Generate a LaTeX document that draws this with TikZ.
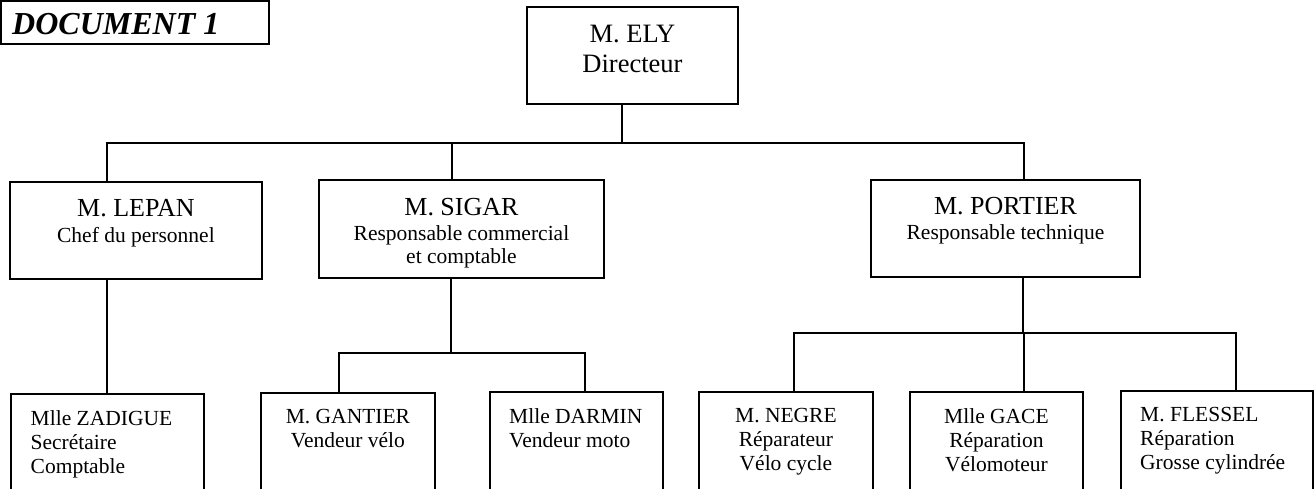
\documentclass[tikz,border=0pt]{standalone}
\usepackage{fontspec}
\setmainfont{Liberation Serif}
\usetikzlibrary{positioning}

\begin{document}
\begin{tikzpicture}[x=1pt,y=1pt,box/.style={draw,line width=1.9pt,inner sep=0pt,anchor=north west},line/.style={line width=1.8pt},txt/.style={inner sep=0pt,align=center,font=\fontsize{21.5}{23}\selectfont},low/.style={inner sep=0pt,font=\fontsize{21.5}{24}\selectfont}]
	\useasboundingbox (0,0) rectangle (1315,-489);
	\node[box,minimum width=268pt,minimum height=43pt] (doc) at (0,0) {};
	\node[inner sep=0pt,font=\fontsize{32}{36}\bfseries\itshape,below right=13pt and 12pt of doc.north west] (doctext) {DOCUMENT 1};
	\node[box,minimum width=211pt,minimum height=97pt] (ely) at (526,-6) {};
	\node[txt,font=\fontsize{26.5}{30}\selectfont,below=19pt of ely.north] (elytext) {M. ELY\\Directeur};
	\node[box,minimum width=252pt,minimum height=97pt] (lepan) at (9,-181) {};
	\node[txt,below=18.5pt of lepan.north] (lepantext) {{\fontsize{26}{30}\selectfont M. LEPAN}\\[2.5pt]Chef du personnel};
	\node[box,minimum width=285pt,minimum height=97.5pt] (sigar) at (318,-179.5) {};
	\node[txt,below=19pt of sigar.north] (sigartext) {{\fontsize{26}{30}\selectfont M. SIGAR}\\[2pt]Responsable commercial\\et comptable};
	\node[box,minimum width=269pt,minimum height=97pt] (portier) at (870,-179) {};
	\node[txt,below=18pt of portier.north] (portiertext) {{\fontsize{26}{30}\selectfont M. PORTIER}\\[2pt]Responsable technique};
	\node[box,minimum width=193pt,minimum height=110pt] (zadigue) at (10,-393) {};
	\node[low,align=left,below right=17pt and 20.5pt of zadigue.north west] (zadiguetext) {Mlle ZADIGUE\\Secrétaire\\Comptable};
	\node[box,minimum width=174pt,minimum height=110pt] (gantier) at (260,-392) {};
	\node[low,align=center,below=17pt of gantier.north] (gantiertext) {M. GANTIER\\Vendeur vélo};
	\node[box,minimum width=173pt,minimum height=110pt] (darmin) at (489,-391) {};
	\node[low,align=left,below right=17pt and 20pt of darmin.north west] (darmintext) {Mlle DARMIN\\Vendeur moto};
	\node[box,minimum width=174pt,minimum height=110pt] (negre) at (698,-391) {};
	\node[low,align=center,below=17pt of negre.north] (negretext) {M. NEGRE\\Réparateur\\Vélo cycle};
	\node[box,minimum width=173pt,minimum height=110pt] (gace) at (909,-391) {};
	\node[low,align=center,below=17pt of gace.north] (gacetext) {Mlle GACE\\Réparation\\Vélomoteur};
	\node[box,minimum width=192pt,minimum height=110pt] (flessel) at (1120,-390) {};
	\node[low,align=left,below right=17pt and 20pt of flessel.north west] (flesseltext) {M. FLESSEL\\Réparation\\Grosse cylindrée};
	\coordinate (fork) at (622,-143);
	\draw[line] (fork) -- (fork |- ely.south);
	\draw[line] ([xshift=-29pt]lepan.north) |- (fork);
	\draw[line] ([xshift=-9.5pt]sigar.north) |- (fork);
	\draw[line] ([xshift=18.5pt]portier.north) |- (fork);
	\draw[line] ([xshift=-29pt]lepan.south) -- ([xshift=-29pt]lepan.south |- zadigue.north);
	\coordinate (sigarfork) at (451,-353);
	\draw[line] (sigarfork) -- (sigarfork |- sigar.south);
	\draw[line] ([xshift=-9pt]gantier.north) |- (sigarfork);
	\draw[line] ([xshift=8.5pt]darmin.north) |- (sigarfork);
	\coordinate (portierfork) at (1023,-333);
	\draw[line] (portierfork) -- (portierfork |- portier.south);
	\draw[line] ([xshift=8pt]negre.north) |- (portierfork);
	\draw[line] ([xshift=27.5pt]gace.north) |- (portierfork);
	\draw[line] ([xshift=19pt]flessel.north) |- (portierfork);
\end{tikzpicture}
\end{document}
